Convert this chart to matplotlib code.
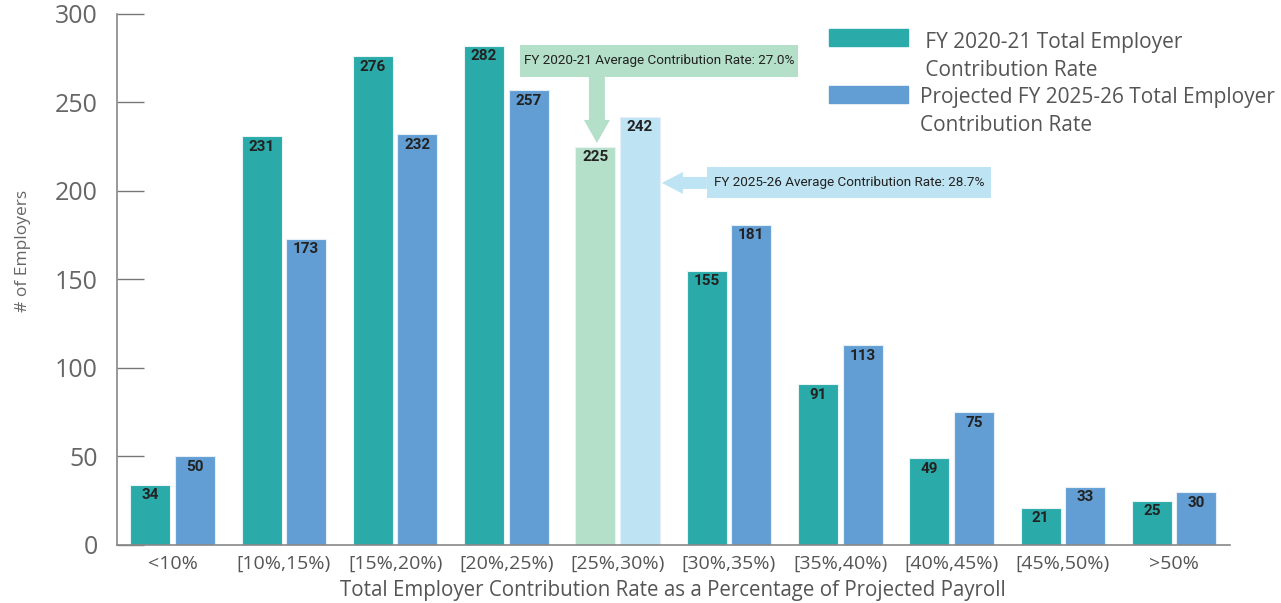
import matplotlib.pyplot as plt
import numpy as np

# data
categories = ['<10%', '[10%,15%)', '[15%,20%)', '[20%,25%)', '[25%,30%)',
              '[30%,35%)', '[35%,40%)', '[40%,45%)', '[45%,50%)', '>50%']
fy2021 = [34, 231, 276, 282, 225, 155, 91, 49, 21, 25]
fy2526 = [50, 173, 232, 257, 242, 181, 113, 75, 33, 30]
legend_labels = [' FY 2020-21 Total Employer\n Contribution Rate',
                 'Projected FY 2025-26 Total Employer\nContribution Rate']
avg_2021 = 'FY 2020-21 Average Contribution Rate: 27.0%'
avg_2526 = 'FY 2025-26 Average Contribution Rate: 28.7%'
highlight = 4  # the [25%,30%) group

teal = '#2aaaa8'
blue = '#629ed4'
teal_lt = '#b4dfc9'
blue_lt = '#bee4f3'
grey = '#666666'
narrow = ['Liberation Sans Narrow', 'Roboto', 'DejaVu Sans']

plt.rcParams['font.family'] = ['Open Sans', 'DejaVu Sans']

fig = plt.figure(figsize=(12.81, 6.03), dpi=100)
ax = fig.add_axes([0.0913, 0.0962, 0.8687, 0.8808])

x = np.arange(len(categories))
w = 0.36
c1 = [teal_lt if i == highlight else teal for i in x]
c2 = [blue_lt if i == highlight else blue for i in x]
b1 = ax.bar(x - 0.2, fy2021, w, color=c1, edgecolor='#e8f4f4', linewidth=0.8)
b2 = ax.bar(x + 0.2, fy2526, w, color=c2, edgecolor='#e6eef8', linewidth=0.8)

for bars, vals in ((b1, fy2021), (b2, fy2526)):
    for r, v in zip(bars, vals):
        ax.text(r.get_x() + r.get_width() / 2, v - 6, str(v), ha='center', va='center',
                fontsize=11, family=narrow, fontweight='bold', color='#222222')

ax.set_xlim(-0.5, 9.5)
ax.set_ylim(0, 300)
ax.set_yticks(range(0, 301, 50))
ax.set_xticks(x)
ax.set_xticklabels(categories, fontsize=14, color='#555555')
ax.tick_params(axis='y', direction='in', length=19.5, width=1, color='#777777',
               labelsize=18, labelcolor=grey, pad=14)
ax.tick_params(axis='x', length=0, pad=7)
for s in ('top', 'right'):
    ax.spines[s].set_visible(False)
for s in ('left', 'bottom'):
    ax.spines[s].set_color('#888888')
    ax.spines[s].set_linewidth(1.2)

ax.set_xlabel('Total Employer Contribution Rate as a Percentage of Projected Payroll',
              fontsize=14.8, color='#555555', labelpad=5)
ax.set_ylabel('# of Employers', fontsize=12.5, color=grey)
ax.yaxis.set_label_coords(-0.077, 0.553)

# average-rate call-outs: box, text and a thick arrow pointing at the bar
ax.add_patch(plt.Rectangle((3.121, 264.4), 2.498, 18.1, color=teal_lt, lw=0))
ax.text(4.37, 273.4, avg_2021, ha='center', va='center', fontsize=9.7,
        family=narrow, color='#222222')
ax.arrow(3.813, 264.4, 0, -37.3, width=0.144, head_width=0.234, head_length=13,
         length_includes_head=True, color=teal_lt, lw=0)

ax.add_patch(plt.Rectangle((4.801, 196.0), 2.551, 17.6, color=blue_lt, lw=0))
ax.text(6.077, 204.8, avg_2526, ha='center', va='center', fontsize=9.7,
        family=narrow, color='#222222')
ax.arrow(4.801, 204.5, -0.404, 0, width=6.8, head_width=12.4, head_length=0.189,
         length_includes_head=True, color=blue_lt, lw=0)

# legend drawn by hand
for i, (lab, col) in enumerate(zip(legend_labels, [teal, blue])):
    fig.patches.append(plt.Rectangle((0.6471, 0.9237 - i * 0.0945), 0.0617, 0.028,
                                     color=col, transform=fig.transFigure))
    fig.text(0.7182, 0.947 - i * 0.091, lab, ha='left', va='top', fontsize=15,
             color='#555555', linespacing=1.44)

fig.savefig('out.png', dpi=100)
